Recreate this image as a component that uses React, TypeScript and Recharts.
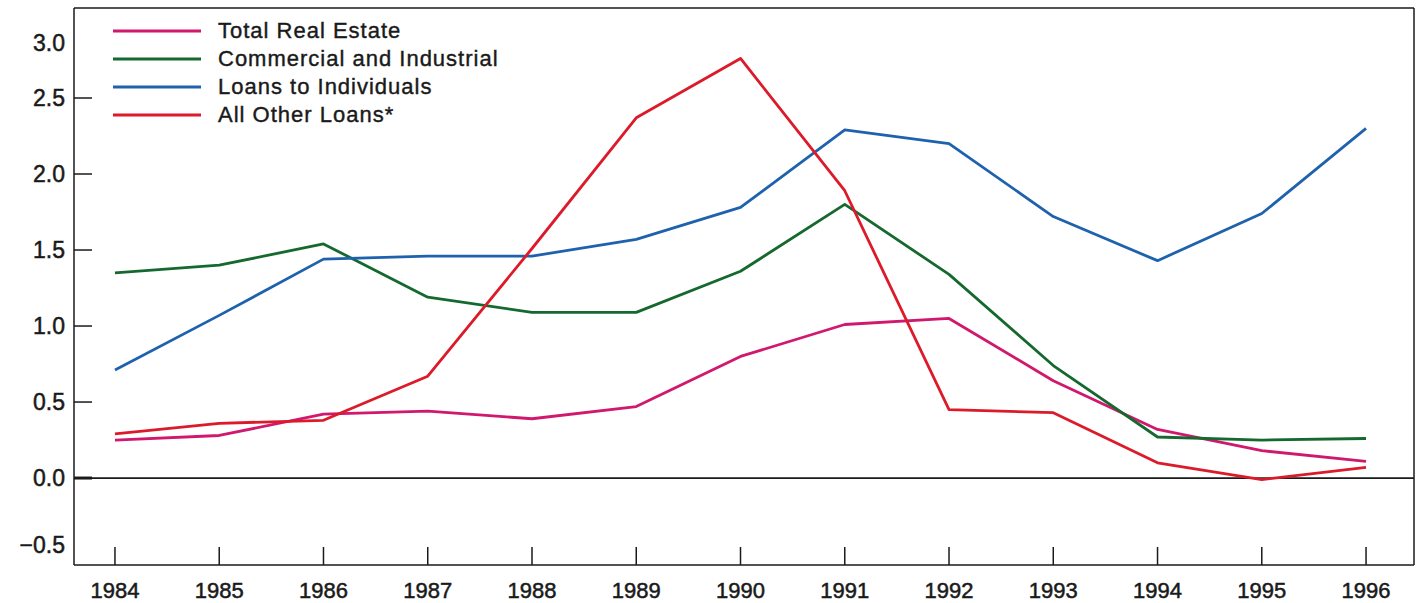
import { LineChart, Line, XAxis, YAxis, ReferenceLine, Legend } from 'recharts';

const years = [1984, 1985, 1986, 1987, 1988, 1989, 1990, 1991, 1992, 1993, 1994, 1995, 1996];
const totalRealEstate = [0.25, 0.28, 0.42, 0.44, 0.39, 0.47, 0.8, 1.01, 1.05, 0.64, 0.32, 0.18, 0.11];
const commercialIndustrial = [1.35, 1.4, 1.54, 1.19, 1.09, 1.09, 1.36, 1.8, 1.34, 0.74, 0.27, 0.25, 0.26];
const loansToIndividuals = [0.71, 1.07, 1.44, 1.46, 1.46, 1.57, 1.78, 2.29, 2.2, 1.72, 1.43, 1.74, 2.3];
const allOtherLoans = [0.29, 0.36, 0.38, 0.67, 1.51, 2.37, 2.76, 1.89, 0.45, 0.43, 0.1, -0.01, 0.07];

const yTicks = [-0.5, 0, 0.5, 1, 1.5, 2, 2.5, 3];
const yTickLabels = ['\u22120.5', '0.0', '0.5', '1.0', '1.5', '2.0', '2.5', '3.0'];

const series = [
  { key: 'realEstate', name: 'Total Real Estate', color: '#d0186e' },
  { key: 'commercial', name: 'Commercial and Industrial', color: '#15692f' },
  { key: 'individuals', name: 'Loans to Individuals', color: '#1e62ae' },
  { key: 'other', name: 'All Other Loans*', color: '#dc1a2a' },
];

const data = years.map((year, i) => ({
  year,
  realEstate: totalRealEstate[i],
  commercial: commercialIndustrial[i],
  individuals: loansToIndividuals[i],
  other: allOtherLoans[i],
}));

const X_DOMAIN: [number, number] = [1983.607, 1996.46];
const Y_DOMAIN: [number, number] = [-0.572, 3.092];

const FONT = '"Liberation Sans", Arial, Helvetica, sans-serif';
const INK = '#1a1a1a';

// the scanned original has the 3.0 and -0.5 labels nudged off their tick positions
const labelShift: Record<string, number> = { '3': 21, '-0.5': -9 };

const YTick = (props: any) => {
  const { x, y, payload } = props;
  const v = payload.value as number;
  const idx = yTicks.indexOf(v);
  const shift = labelShift[String(v)] ?? 0;
  const hasMark = v >= 0 && v <= 2.5;
  return (
    <g>
      {hasMark && (
        <line x1={x} x2={x + 18} y1={y} y2={y} stroke={INK} strokeWidth={v === 0 ? 3 : 1.5} />
      )}
      <text
        x={x - 9}
        y={y + shift}
        textAnchor="end"
        dominantBaseline="central"
        fontFamily={FONT}
        fontSize={23}
        fill={INK}
        stroke={INK}
        strokeWidth={0.5}
      >
        {yTickLabels[idx]}
      </text>
    </g>
  );
};

const XTick = (props: any) => {
  const { x, y, payload } = props;
  return (
    <g>
      <line x1={x} x2={x} y1={y - 18} y2={y} stroke={INK} strokeWidth={1.5} />
      <text
        x={x}
        y={y + 25}
        textAnchor="middle"
        dominantBaseline="central"
        fontFamily={FONT}
        fontSize={22}
        fill={INK}
        stroke={INK}
        strokeWidth={0.5}
      >
        {payload.value}
      </text>
    </g>
  );
};

const LegendBox = ({ payload }: any) => {
  const items = [...(payload || [])].sort(
    (a: any, b: any) =>
      series.findIndex((s) => s.name === a.value) - series.findIndex((s) => s.name === b.value)
  );
  return (
    <div style={{ fontFamily: FONT, fontSize: 22, color: INK, letterSpacing: 1, WebkitTextStroke: '0.4px #1a1a1a' }}>
      {items.map((entry: any) => (
        <div key={entry.value} style={{ display: 'flex', alignItems: 'center', height: 28 }}>
          <svg width={88} height={4} style={{ display: 'block' }}>
            <line x1={0} x2={88} y1={2} y2={2} stroke={entry.color} strokeWidth={3} />
          </svg>
          <span style={{ marginLeft: 17, lineHeight: '28px', whiteSpace: 'nowrap' }}>{entry.value}</span>
        </div>
      ))}
    </div>
  );
};

export default function App() {
  return (
    <div style={{ position: 'absolute', left: 0, top: 0, background: '#fff' }}>
      <LineChart width={1422} height={603} data={data} margin={{ top: 8, right: 8, left: 0, bottom: 0 }}>
        <XAxis
          dataKey="year"
          type="number"
          domain={X_DOMAIN}
          ticks={years}
          interval={0}
          allowDataOverflow
          height={38}
          tickSize={0}
          tickMargin={0}
          tickLine={false}
          axisLine={{ stroke: INK, strokeWidth: 1.5 }}
          tick={<XTick />}
        />
        <YAxis
          type="number"
          domain={Y_DOMAIN}
          ticks={yTicks}
          interval={0}
          allowDataOverflow
          width={74}
          tickSize={0}
          tickMargin={0}
          tickLine={false}
          axisLine={{ stroke: INK, strokeWidth: 1.5 }}
          tick={<YTick />}
        />
        {/* frame: top and right edges */}
        <ReferenceLine y={Y_DOMAIN[1]} stroke={INK} strokeWidth={1.5} ifOverflow="visible" />
        <ReferenceLine x={X_DOMAIN[1]} stroke={INK} strokeWidth={1.5} ifOverflow="visible" />
        <ReferenceLine y={0} stroke={INK} strokeWidth={1.8} />
        <Legend
          layout="horizontal"
          verticalAlign="middle"
          align="center"
          wrapperStyle={{ left: 113, top: 17, width: 'auto' }}
          content={<LegendBox />}
        />
        {series.map((s) => (
          <Line
            key={s.key}
            type="linear"
            dataKey={s.key}
            name={s.name}
            stroke={s.color}
            strokeWidth={2.8}
            dot={false}
            activeDot={false}
            strokeLinejoin="round"
            isAnimationActive={false}
          />
        ))}
      </LineChart>
    </div>
  );
}
